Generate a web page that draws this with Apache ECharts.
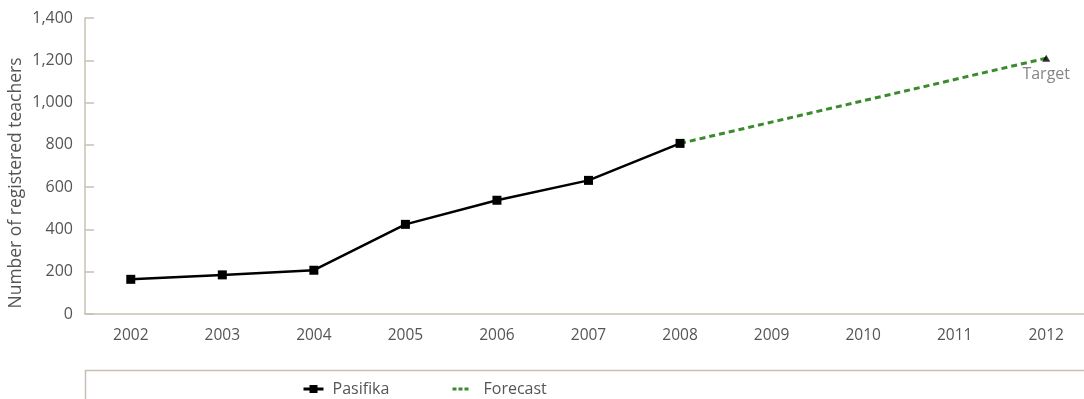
<!DOCTYPE html>
<html>
<head>
<meta charset="utf-8">
<script src="https://cdn.jsdelivr.net/npm/echarts@6/dist/echarts.min.js"></script>
<style>
  html, body { margin: 0; padding: 0; background: #ffffff; overflow: hidden; }
  /* the plot area runs a few pixels past the right edge of the page */
  #chart { width: 1092px; height: 399px; }
</style>
</head>
<body>
<div id="chart"></div>
<script>
// Registered Pasifika teachers, actual counts and forecast towards the target
const years = ['2002', '2003', '2004', '2005', '2006', '2007', '2008', '2009', '2010', '2011', '2012'];
const pasifika = [164, 185, 207, 424, 538, 632, 807, null, null, null, null];
const forecast = [null, null, null, null, null, null, 807, null, null, null, 1210];
const target = [null, null, null, null, null, null, null, null, null, null, 1210];
const yTicks = [0, 200, 400, 600, 800, 1000, 1200, 1400];

const FONT = '"Open Sans", "Noto Sans", "DejaVu Sans", sans-serif';
const AXIS_COLOR = '#c8c0b2';
const TEXT_COLOR = '#555555';
const GREEN = '#3b8a2e';

const chart = echarts.init(document.getElementById('chart'), null, { renderer: 'canvas' });

chart.setOption({
  animation: false,
  backgroundColor: '#ffffff',
  textStyle: { fontFamily: FONT },
  grid: { left: 85, right: 0, top: 18, bottom: 85, containLabel: false },
  xAxis: {
    type: 'category',
    data: years,
    boundaryGap: true,
    axisLine: { lineStyle: { color: AXIS_COLOR, width: 1.5 } },
    axisTick: { alignWithLabel: true, inside: true, length: 7, lineStyle: { color: AXIS_COLOR, width: 1.5 } },
    axisLabel: { color: TEXT_COLOR, fontSize: 15.5, fontFamily: FONT, margin: 14 },
    splitLine: { show: false }
  },
  yAxis: {
    type: 'value',
    min: yTicks[0],
    max: yTicks[yTicks.length - 1],
    interval: yTicks[1] - yTicks[0],
    axisLine: { show: true, lineStyle: { color: AXIS_COLOR, width: 1.5 } },
    axisTick: { show: true, inside: true, length: 9, lineStyle: { color: AXIS_COLOR, width: 1.5 } },
    axisLabel: {
      color: TEXT_COLOR, fontSize: 16, fontFamily: FONT, margin: 12,
      formatter: v => v.toLocaleString('en-US')
    },
    splitLine: { show: false }
  },
  legend: [
    {
      data: ['Pasifika'],
      left: 302, top: 381, padding: 0,
      itemWidth: 20, itemHeight: 10,
      lineStyle: { width: 3 },
      textStyle: { color: TEXT_COLOR, fontSize: 16, fontFamily: FONT, padding: [0, 0, 0, 4] }
    },
    {
      // dashed line only, no point symbol in the key
      data: [{ name: 'Forecast', itemStyle: { opacity: 0 } }],
      left: 451, top: 381, padding: 0,
      itemWidth: 16, itemHeight: 10,
      lineStyle: { width: 3, type: [4, 2] },
      textStyle: { color: TEXT_COLOR, fontSize: 16, fontFamily: FONT, padding: [0, 0, 0, 10] }
    }
  ],
  graphic: [
    {
      type: 'polyline',
      shape: { points: [[85.5, 405], [85.5, 370.5], [1092, 370.5]] },
      style: { stroke: AXIS_COLOR, lineWidth: 1.5, fill: null },
      silent: true
    },
    {
      type: 'text',
      x: 16, y: 183,
      rotation: Math.PI / 2,
      style: {
        text: 'Number of registered teachers',
        fill: TEXT_COLOR,
        font: '17.5px ' + FONT,
        textAlign: 'center',
        textVerticalAlign: 'middle'
      },
      silent: true
    }
  ],
  series: [
    {
      name: 'Forecast',
      type: 'line',
      data: forecast,
      connectNulls: true,
      symbol: 'none',
      itemStyle: { color: GREEN },
      lineStyle: { color: GREEN, width: 3, type: [6, 4] },
      z: 2
    },
    {
      name: 'Pasifika',
      type: 'line',
      data: pasifika,
      symbol: 'rect',
      symbolSize: 9,
      itemStyle: { color: '#000000' },
      lineStyle: { color: '#000000', width: 2.5 },
      z: 3
    },
    {
      name: 'Target',
      type: 'scatter',
      data: target,
      symbol: 'triangle',
      symbolSize: [8, 7],
      itemStyle: { color: '#000000' },
      label: {
        show: true,
        position: 'bottom',
        distance: 5,
        formatter: 'Target',
        color: '#666666',
        fontSize: 16,
        fontFamily: FONT
      },
      z: 4
    }
  ]
});
</script>
</body>
</html>
